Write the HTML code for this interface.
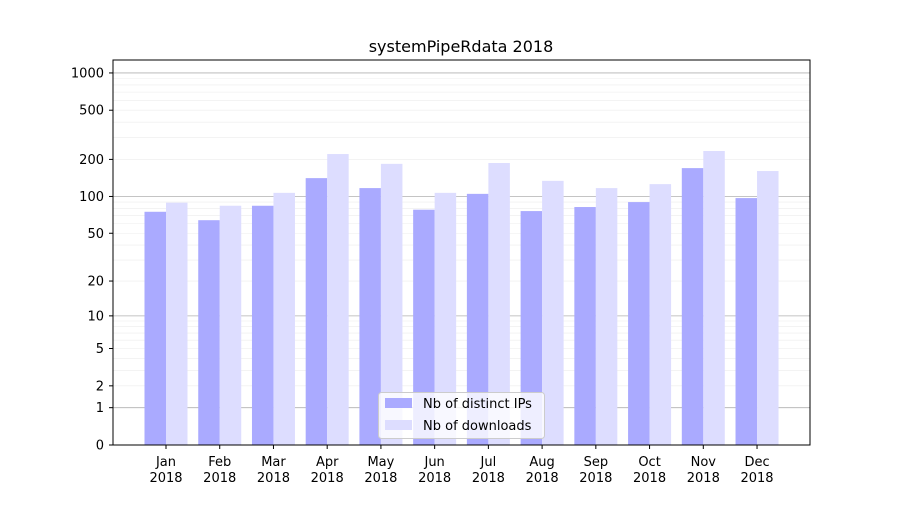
<!DOCTYPE html>
<html><head><meta charset="utf-8"><style>
body{margin:0;background:#fff}
svg text{font-family:"DejaVu Sans","Liberation Sans",sans-serif;fill:#000}
</style></head><body>
<svg id="s" width="900" height="500" xmlns="http://www.w3.org/2000/svg">
<rect width="900" height="500" fill="#fff"/>
<g id="grid"></g><g id="bars"></g>
<rect x="113" y="60" width="697" height="385" fill="none" stroke="#000" stroke-width="1"/>
<g id="ticks"></g>
<text x="461" y="52" font-size="16" text-anchor="middle">systemPipeRdata 2018</text>
<g>
<rect x="378.5" y="392.5" width="166" height="46" rx="3" fill="#fff" fill-opacity="0.8" stroke="#ccc"/>
<rect x="385" y="398" width="27" height="10" fill="#aaaaff"/>
<text x="423" y="408" font-size="13">Nb of distinct IPs</text>
<rect x="385" y="420" width="27" height="10" fill="#ddddff"/>
<text x="423" y="430" font-size="13">Nb of downloads</text>
</g>
</svg>
<script>
var NS="http://www.w3.org/2000/svg";
function Y(v){return 445-124*Math.log10(1+v);}
function el(p,t,a,txt){var e=document.createElementNS(NS,t);for(var k in a)e.setAttribute(k,a[k]);if(txt!=null)e.textContent=txt;document.getElementById(p).appendChild(e);}
[1,10,100,1000].forEach(function(d){for(var i=1;i<10;i++){var v=d*i;if(v>1200)break;var y=Y(v);el("grid","line",{x1:113,x2:810,y1:y,y2:y,stroke:i==1?"#b0b0b0":"#ececec","stroke-width":i==1?0.8:0.6});}});
[0,1,2,5,10,20,50,100,200,500,1000].forEach(function(v){var y=Y(v);el("ticks","line",{x1:109,x2:113,y1:y,y2:y,stroke:"#000"});el("ticks","text",{x:104,y:y+4.5,"font-size":13,"text-anchor":"end"},v);});
var m=["Jan","Feb","Mar","Apr","May","Jun","Jul","Aug","Sep","Oct","Nov","Dec"];
var a=[75,64,84,141,117,78,105,76,82,90,170,97];
var b=[89,84,107,221,184,107,187,134,117,126,234,161];
for(var i=0;i<12;i++){var c=166+i*53.73;
el("bars","rect",{x:c-21.5,y:Y(a[i]),width:21.5,height:445-Y(a[i]),fill:"#aaaaff"});
el("bars","rect",{x:c,y:Y(b[i]),width:21.5,height:445-Y(b[i]),fill:"#ddddff"});
el("ticks","line",{x1:c,x2:c,y1:445,y2:449,stroke:"#000"});
el("ticks","text",{x:c,y:466,"font-size":13,"text-anchor":"middle"},m[i]);
el("ticks","text",{x:c,y:482,"font-size":13,"text-anchor":"middle"},"2018");}
</script>
</body></html>
